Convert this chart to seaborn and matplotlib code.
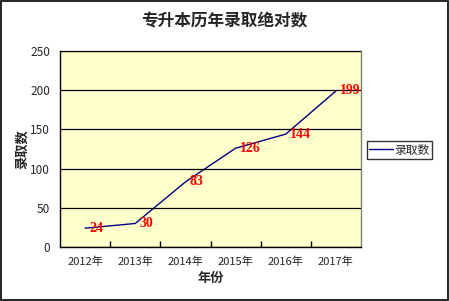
import matplotlib
matplotlib.use("Agg")
import matplotlib.pyplot as plt
import seaborn as sns
import pandas as pd
from matplotlib.patches import Rectangle

years = ["2012年", "2013年", "2014年", "2015年", "2016年", "2017年"]
counts = [24, 30, 83, 126, 144, 199]
series_name = "录取数"
y_ticks = [0, 50, 100, 150, 200, 250]

sns.set_theme(style="white")
plt.rcParams['font.family'] = ['Noto Sans CJK SC', 'DejaVu Sans']

df = pd.DataFrame({"年份": years, series_name: counts})

fig = plt.figure(figsize=(4.49, 3.01), dpi=100)
ax = fig.add_axes([60/449, 1-247/301, 301/449, 196/301])
ax.set_facecolor("#FFFFCC")

sns.lineplot(data=df, x="年份", y=series_name, ax=ax, color="#000080",
             linewidth=1.0, label=series_name, legend=False, sort=False)

for i, v in enumerate(counts):
    ax.text(i + 0.09, v, str(v), color="red", fontsize=10, fontweight="bold",
            family=["Liberation Serif"], ha="left", va="center")

ax.set_xlim(-0.5, 5.5)
ax.set_ylim(0, 250)
ax.set_yticks(y_ticks)
ax.set_yticklabels([str(t) for t in y_ticks], fontsize=8.5)
ax.set_xticks(range(len(years)))
ax.set_xticklabels(years, fontsize=8)
ax.set_xticks([i + 0.5 for i in range(len(years) - 1)], minor=True)
ax.tick_params(axis="x", which="major", length=0, pad=7)
ax.tick_params(axis="x", which="minor", length=4, direction="in", color="black", bottom=True)
ax.tick_params(axis="y", length=0, pad=7)
ax.grid(axis="y", color="black", linewidth=0.9)
ax.grid(axis="x", visible=False)
for side in ["left", "bottom"]:
    ax.spines[side].set_color("black")
    ax.spines[side].set_linewidth(1.0)
for side in ["top", "right"]:
    ax.spines[side].set_color("#808080")
    ax.spines[side].set_linewidth(1.0)
ax.set_axisbelow(False)

ax.set_xlabel("年份", fontsize=9.5, fontweight="bold", labelpad=3)
ax.set_ylabel("录取数", fontsize=9.5, fontweight="bold", labelpad=1)

fig.suptitle("专升本历年录取绝对数", fontsize=12, fontweight="bold", y=1-21/301, va="center")

handles, labels = ax.get_legend_handles_labels()
leg = fig.legend(handles, labels, loc="center left", bbox_to_anchor=(367/449, 1-150/301),
                 fontsize=8.5, frameon=True, fancybox=False, handlelength=2.0,
                 borderpad=0.2, handletextpad=0.1, borderaxespad=0)
leg.get_frame().set_edgecolor("black")
leg.get_frame().set_linewidth(1.0)

fig.patches.append(Rectangle((0.002, 0.003), 0.995, 0.994, transform=fig.transFigure,
                             fill=False, edgecolor="black", linewidth=1.2))

fig.savefig("out.png", dpi=100, facecolor="white")
